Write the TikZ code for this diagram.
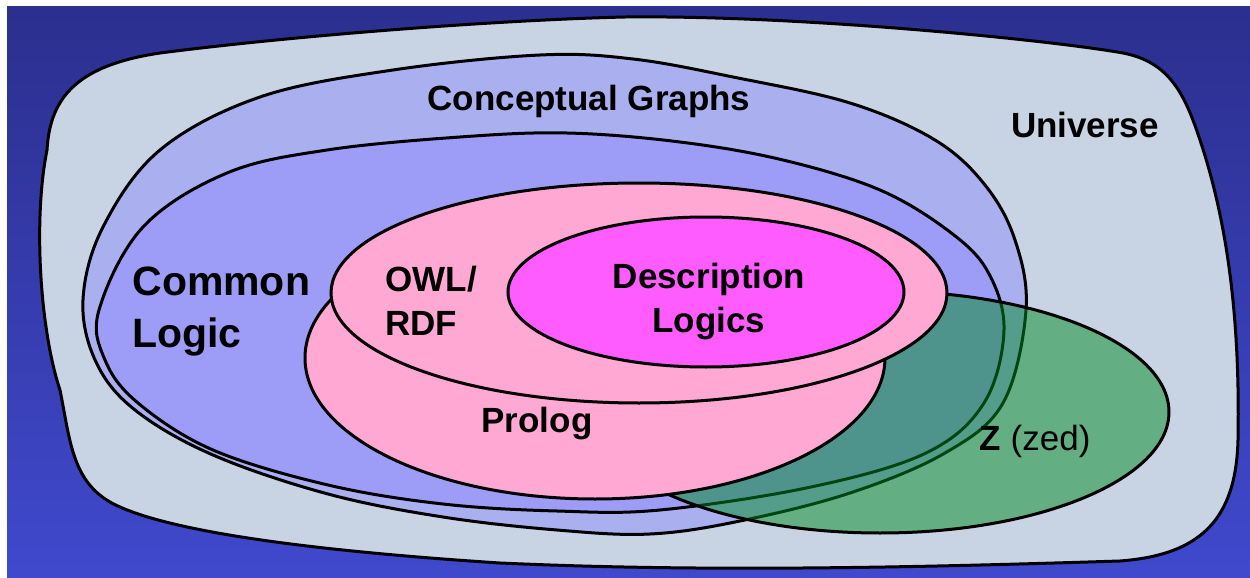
\documentclass[tikz,border=0pt]{standalone}
\usepackage{fontspec}
\setmainfont{Liberation Sans}
\usepackage{tikz}
\usetikzlibrary{calc}
\usepackage{xcolor}
\definecolor{Jacksons}{HTML}{2B2F8E}
\definecolor{Governor}{HTML}{4049CD}
\definecolor{Mischka}{HTML}{C8D3E3}
\definecolor{Perano}{HTML}{AAAFF0}
\definecolor{Portage}{HTML}{9D9DF7}
\definecolor{CottonCandy}{HTML}{FFA8D4}
\definecolor{PinkFlamingo}{HTML}{FF5CFF}
\definecolor{FunGreen}{HTML}{008D25}
\tikzset{
  region/.style={draw=black,line width=1.5pt},
  lbl/.style={inner sep=0pt,font=\bfseries\fontsize{17.5}{22}\selectfont},
  biglbl/.style={inner sep=0pt,font=\bfseries\fontsize{20.5}{26}\selectfont}
}

\begin{document}
\begin{tikzpicture}[x=0.5pt,y=-0.5pt]
     \useasboundingbox (0,0) rectangle (1250,578);
     \fill[white] (0,0) rectangle (1250,578);
     \shade[top color=Jacksons,bottom color=Governor] (7,6) rectangle (1250,578);

     % universe
     \draw[region,fill=Mischka] (47,150) .. controls (50,95) and (80,65) .. (160,53)
       .. controls (300,35) and (500,20) .. (625,17)
       .. controls (800,15) and (1050,40) .. (1123,53)
       .. controls (1170,62) and (1185,95) .. (1200,140)
       .. controls (1230,230) and (1240,330) .. (1238,440)
       .. controls (1236,520) and (1200,555) .. (1120,561)
       .. controls (900,568) and (700,572) .. (500,563)
       .. controls (300,550) and (160,530) .. (110,502)
       .. controls (72,480) and (70,440) .. (60,390)
       .. controls (40,330) and (33,220) .. (47,150) -- cycle;

     % conceptual graphs
     \draw[region,fill=Perano] plot[smooth cycle,tension=0.6] coordinates {
       (83,300) (96,362) (135,410) (213,455) (328,494) (443,517) (557,530)
       (650,534) (740,521) (850,493) (945,453) (1003,403) (1026,310) (1015,240)
       (985,185) (935,140) (850,103) (733,77) (633,59) (540,55) (393,70)
       (260,97) (160,150) (103,227)};

     % common logic
     \draw[region,fill=Portage] plot[smooth cycle,tension=0.6] coordinates {
       (99,310) (105,360) (138,403) (213,450) (328,485) (443,504) (557,511)
       (660,510) (811,487) (926,453) (984,403) (1004,330) (988,272) (950,232)
       (880,190) (783,160) (680,142) (567,133) (460,137) (327,150) (227,173)
       (143,227)};

     % z (zed)
     \draw[region,fill=FunGreen,fill opacity=0.5] (880,412) ellipse [x radius=289,y radius=121];

     % prolog, owl, description logics
     \draw[region,fill=CottonCandy] (595,358) ellipse [x radius=290,y radius=141];
     \draw[region,fill=CottonCandy] (639,293) ellipse [x radius=308,y radius=110];
     \draw[region,fill=PinkFlamingo] (706,292) ellipse [x radius=198,y radius=75];

     \node[lbl,anchor=base] (cg) at (589,110) {Conceptual Graphs};
     \node[lbl,anchor=base] (univ) at (1085,137) {Universe};
     \node[biglbl,anchor=base west,align=left] (cl) at (132,347) {Common\\Logic};
     \node[lbl,anchor=base west,align=left] (owl) at (385,335) {OWL/\\RDF};
     \node[lbl,anchor=base,align=center] (dl) at (709,332) {Description\\Logics};
     \node[lbl,anchor=base] (prolog) at (537,432) {Prolog};
     \node[lbl,anchor=base] (zed) at (1035,450) {Z \mdseries(zed)};
\end{tikzpicture}
\end{document}
